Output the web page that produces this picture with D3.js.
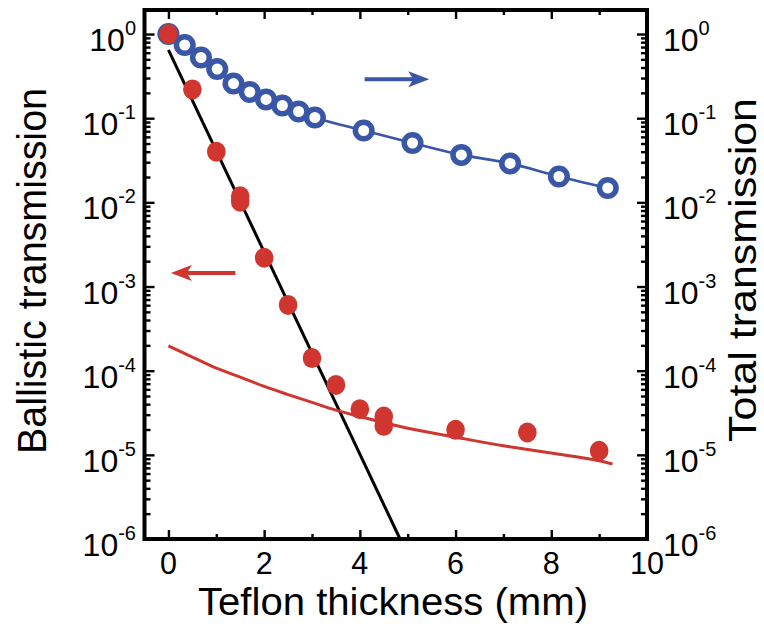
<!DOCTYPE html>
<html><head><meta charset="utf-8">
<script src="https://cdn.jsdelivr.net/npm/d3@7"></script>
<style>body{margin:0;background:#fff} svg{display:block}</style>
</head><body><svg id="c" width="764" height="628"></svg>
<script>
// Total transmission (open blue circles, right axis)
const totalX = [0, 0.34, 0.68, 1.02, 1.36, 1.70, 2.04, 2.38, 2.72, 3.06, 4.08, 5.10, 6.12, 7.14, 8.16, 9.18];
const totalY = [1.0, 0.74, 0.526, 0.384, 0.258, 0.205, 0.167, 0.1415, 0.120, 0.102, 0.0714, 0.0507, 0.0366, 0.029, 0.0203, 0.0148];
// Ballistic transmission (filled red dots, left axis)
const ballX = [0, 0.5, 1.0, 1.5, 1.5, 2.0, 2.5, 3.0, 3.5, 4.0, 4.5, 4.5, 6.0, 7.5, 9.0];
const ballY = [1.0, 0.22, 0.040, 0.0118, 0.0102, 0.0022, 6.05e-4, 1.41e-4, 6.78e-5, 3.49e-5, 2.85e-5, 2.21e-5, 1.98e-5, 1.84e-5, 1.12e-5];
// Red fitted curve (scattered light)
const redFitX = [0, 0.5, 1.0, 1.5, 2.0, 2.5, 3.0, 3.5, 4.0, 5.0, 6.0, 7.0, 8.0, 9.0, 9.28];
const redFitY = [1.97e-4, 1.45e-4, 1.07e-4, 8.4e-5, 6.5e-5, 5.2e-5, 4.2e-5, 3.4e-5, 2.85e-5, 2.07e-5, 1.62e-5, 1.28e-5, 1.05e-5, 8.5e-6, 7.8e-6];
// Black Beer-Lambert line
const blackX = [0, 4.84];
const blackY = [0.65, 1e-6];
// Axis ticks
const xMajor = [0, 2, 4, 6, 8, 10];
const xMinor = [1, 3, 5, 7, 9];
const yExps = [0, -1, -2, -3, -4, -5, -6];

const RED = "#d0352f", BLUE = "#3a56a6";
const L = 144.5, R = 647, T = 10, B = 539;
const svg = d3.select("#c");
const x = d3.scaleLinear().domain([-0.5, 10]).range([L, R]);
const y = d3.scaleLog().domain([1e-6, 1.93]).range([B, T]);
const FONT = "'Liberation Sans', Arial, Helvetica, sans-serif";

const yMajor = yExps.map(e => Math.pow(10, e));
const yMinor = [];
yExps.slice(0, -1).forEach(e => { for (let k = 2; k <= 9; k++) yMinor.push(k * Math.pow(10, e - 1)); });

function styleAxis(g){ g.select(".domain").remove(); g.selectAll(".tick line").attr("stroke","#000").attr("stroke-width",2.4); g.selectAll(".tick text").remove(); }

// x axes
svg.append("g").attr("transform",`translate(0,${B})`).call(d3.axisBottom(x).tickValues(xMajor).tickSize(-9)).call(styleAxis);
svg.append("g").attr("transform",`translate(0,${B})`).call(d3.axisBottom(x).tickValues(xMinor).tickSize(-5)).call(styleAxis);
svg.append("g").attr("transform",`translate(0,${T})`).call(d3.axisTop(x).tickValues(xMajor).tickSize(-9)).call(styleAxis);
svg.append("g").attr("transform",`translate(0,${T})`).call(d3.axisTop(x).tickValues(xMinor).tickSize(-5)).call(styleAxis);
// y axes
svg.append("g").attr("transform",`translate(${L},0)`).call(d3.axisLeft(y).tickValues(yMajor).tickSize(-10)).call(styleAxis);
svg.append("g").attr("transform",`translate(${L},0)`).call(d3.axisLeft(y).tickValues(yMinor).tickSize(-6)).call(styleAxis);
svg.append("g").attr("transform",`translate(${R},0)`).call(d3.axisRight(y).tickValues(yMajor).tickSize(-10)).call(styleAxis);
svg.append("g").attr("transform",`translate(${R},0)`).call(d3.axisRight(y).tickValues(yMinor).tickSize(-6)).call(styleAxis);

// frame
svg.append("rect").attr("x",L).attr("y",T).attr("width",R-L).attr("height",B-T)
  .attr("fill","none").attr("stroke","#000").attr("stroke-width",4);

// x tick labels
svg.append("g").selectAll("text").data(xMajor).join("text")
  .attr("x", d => x(d)).attr("y", B + 35).attr("text-anchor","middle")
  .attr("font-family",FONT).attr("font-size",30.5).text(d => d);

// y tick labels
function yLabels(xpos, anchor){
  const t = svg.append("g").selectAll("text").data(yExps).join("text")
    .attr("x", xpos).attr("y", d => y(Math.pow(10,d)) + 17)
    .attr("text-anchor", anchor).attr("font-family",FONT);
  t.append("tspan").attr("font-size",32).text("10");
  t.append("tspan").attr("font-size",20).attr("dy",-16).text(d => d === 0 ? "0" : String(d));
}
yLabels(136, "end");
yLabels(663, "start");

// titles
svg.append("text").attr("x",393).attr("y",615).attr("text-anchor","middle")
  .attr("font-family",FONT).attr("font-size",38).attr("textLength",390).attr("lengthAdjust","spacingAndGlyphs")
  .text("Teflon thickness (mm)");
svg.append("text").attr("transform","translate(46,271) rotate(-90)").attr("text-anchor","middle")
  .attr("font-family",FONT).attr("font-size",40).attr("textLength",366).attr("lengthAdjust","spacingAndGlyphs")
  .text("Ballistic transmission");
svg.append("text").attr("transform","translate(756,270) rotate(-90)").attr("text-anchor","middle")
  .attr("font-family",FONT).attr("font-size",38).attr("textLength",344).attr("lengthAdjust","spacingAndGlyphs")
  .text("Total transmission");

const plot = svg.append("g");
// blue line + circles
const totalData = totalX.map((v,i)=>[v,totalY[i]]);
plot.append("path").datum(totalData)
  .attr("d", d3.line().x(d=>x(d[0])).y(d=>y(d[1])).curve(d3.curveMonotoneX))
  .attr("fill","none").attr("stroke",BLUE).attr("stroke-width",2.7);
plot.append("g").selectAll("circle").data(totalData).join("circle")
  .attr("cx",d=>x(d[0])).attr("cy",d=>y(d[1])).attr("r",8.3)
  .attr("fill","#fff").attr("stroke",BLUE).attr("stroke-width",5.5);
// black line
plot.append("path").datum(blackX.map((v,i)=>[v,blackY[i]]))
  .attr("d", d3.line().x(d=>x(d[0])).y(d=>y(d[1])))
  .attr("fill","none").attr("stroke","#000").attr("stroke-width",3);
// red fit
plot.append("path").datum(redFitX.map((v,i)=>[v,redFitY[i]]))
  .attr("d", d3.line().x(d=>x(d[0])).y(d=>y(d[1])).curve(d3.curveMonotoneX))
  .attr("fill","none").attr("stroke",RED).attr("stroke-width",3);
// red dots
plot.append("g").selectAll("ellipse").data(ballX.map((v,i)=>[v,ballY[i]])).join("ellipse")
  .attr("cx",d=>x(d[0])).attr("cy",d=>y(d[1])).attr("rx",9.3).attr("ry",10)
  .attr("fill",RED);

// arrows
function arrow(x1, x2, yy, color){
  const dir = Math.sign(x2 - x1);
  svg.append("line").attr("x1",x1).attr("x2",x2 - dir*14).attr("y1",yy).attr("y2",yy)
    .attr("stroke",color).attr("stroke-width",4);
  svg.append("path").attr("d",`M${x2},${yy} L${x2-dir*21},${yy-8} L${x2-dir*16},${yy} L${x2-dir*21},${yy+8} Z`).attr("fill",color);
}
arrow(x(4.1), x(5.45), y(0.29), BLUE);
arrow(x(1.4), x(0.05), y(0.00145), RED);
</script></body></html>
